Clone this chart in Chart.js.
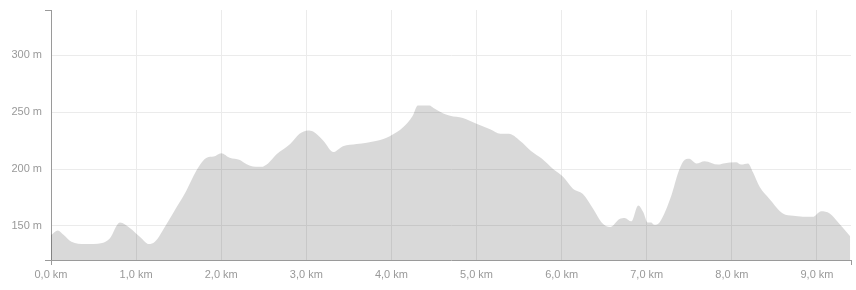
<!DOCTYPE html>
<html>
<head>
<meta charset="utf-8">
<script src="https://cdn.jsdelivr.net/npm/chart.js@4"></script>
<style>
  html, body { margin: 0; padding: 0; background: #fff; }
  #wrap { width: 856px; height: 290px; }
</style>
</head>
<body>
<div id="wrap"><canvas id="profileCanvas" width="856" height="290"></canvas></div>
<script>
// distance along the route (km) and elevation (m)
var distKm = [
  0.00, 0.08, 0.15, 0.24, 0.40, 0.60, 0.69, 0.81, 0.93, 1.05,
  1.15, 1.22, 1.36, 1.48, 1.59, 1.71, 1.83, 1.91, 2.00, 2.10,
  2.22, 2.26, 2.34, 2.47, 2.55, 2.65, 2.81, 2.92, 3.02, 3.08,
  3.20, 3.32, 3.35, 3.43, 3.59, 3.83, 3.98, 4.14, 4.25, 4.31,
  4.45, 4.49, 4.61, 4.69, 4.84, 5.00, 5.16, 5.28, 5.38, 5.51,
  5.64, 5.77, 5.90, 6.02, 6.13, 6.25, 6.37, 6.47, 6.57, 6.68,
  6.74, 6.82, 6.90, 6.96, 7.01, 7.05, 7.09, 7.15, 7.29, 7.37,
  7.43, 7.50, 7.58, 7.68, 7.84, 7.90, 8.05, 8.11, 8.19, 8.25,
  8.33, 8.44, 8.60, 8.72, 8.95, 9.05, 9.15, 9.25, 9.39
];
var elevM = [
  142, 146, 142, 136, 134, 135, 139, 153, 148, 140,
  134, 136, 152, 167, 181, 199, 210, 211, 214, 210,
  208, 206, 203, 202, 205, 213, 222, 231, 234, 233,
  225, 215, 216, 220, 222, 225, 229, 237, 247, 256,
  256, 254, 249, 247, 245, 240, 235, 231, 231, 225,
  216, 209, 200, 193, 183, 178, 165, 153, 149, 156,
  157, 154, 168, 162, 153, 153, 151, 153, 177, 197,
  207, 209, 205, 207, 204, 205, 206, 204, 205, 197,
  184, 174, 161, 159, 158, 163, 161, 153, 141
];
var kmTicks = [0, 1, 2, 3, 4, 5, 6, 7, 8, 9];
var elevTicks = [150, 200, 250, 300];
var xMin = 0, xMax = 9.4;
var yMin = 120, yMax = 340;

var AXIS = '#9a9a9a';
var GRID = '#ebebeb';
var TEXT = '#999999';

var points = distKm.map(function (d, i) { return { x: d, y: elevM[i] }; });

function isEnd(v, lo, hi) { return Math.abs(v - lo) < 1e-6 || Math.abs(v - hi) < 1e-6; }

new Chart(document.getElementById('profileCanvas').getContext('2d'), {
  type: 'line',
  data: {
    datasets: [{
      data: points,
      fill: 'start',
      backgroundColor: 'rgba(0,0,0,0.15)',
      borderWidth: 0,
      pointRadius: 0,
      cubicInterpolationMode: 'monotone'
    }]
  },
  options: {
    responsive: false,
    animation: false,
    layout: { padding: { top: 10, right: 5, left: 0, bottom: 0 } },
    plugins: { legend: { display: false }, tooltip: { enabled: false } },
    scales: {
      x: {
        type: 'linear',
        min: xMin,
        max: xMax,
        afterFit: function (s) { s.height = 30; },
        border: { color: AXIS, width: 1 },
        grid: {
          tickLength: 5,
          color: function (c) { return c.tick && kmTicks.indexOf(c.tick.value) > 0 ? GRID : 'rgba(0,0,0,0)'; },
          tickColor: function (c) { return c.tick && isEnd(c.tick.value, xMin, xMax) ? AXIS : 'rgba(0,0,0,0)'; }
        },
        ticks: {
          stepSize: 1,
          includeBounds: true,
          autoSkip: false,
          maxRotation: 0,
          padding: 3,
          color: TEXT,
          font: { family: '"Liberation Sans", Arial, sans-serif', size: 11 },
          callback: function (v) {
            return kmTicks.indexOf(v) >= 0 ? v.toFixed(1).replace('.', ',') + ' km' : '';
          }
        }
      },
      y: {
        min: yMin,
        max: yMax,
        afterFit: function (s) { s.width = 51; },
        border: { color: AXIS, width: 1 },
        grid: {
          tickLength: 6,
          color: function (c) { return c.tick && elevTicks.indexOf(c.tick.value) >= 0 ? GRID : 'rgba(0,0,0,0)'; },
          tickColor: function (c) { return c.tick && isEnd(c.tick.value, yMin, yMax) ? AXIS : 'rgba(0,0,0,0)'; }
        },
        ticks: {
          stepSize: 50,
          includeBounds: true,
          padding: 3,
          color: TEXT,
          font: { family: '"Liberation Sans", Arial, sans-serif', size: 11 },
          callback: function (v) { return elevTicks.indexOf(v) >= 0 ? v + ' m' : ''; }
        }
      }
    }
  }
});
</script>
</body>
</html>
